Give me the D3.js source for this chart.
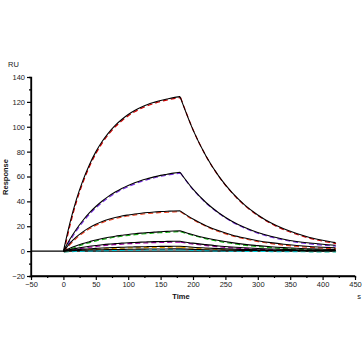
<!DOCTYPE html>
<html><head><meta charset="utf-8">
<script src="https://cdn.jsdelivr.net/npm/d3@7"></script>
<style>
html,body{margin:0;padding:0;background:#fff;}
svg text{font-family:"Liberation Sans",Arial,sans-serif;}
</style></head>
<body><svg id="c" width="364" height="364"></svg>
<script>
// time points (s)
const times = [0,10,20,30,40,50,60,70,80,90,100,110,120,130,140,150,160,170,180,200,220,240,260,280,300,320,340,360,380,400,420];
const injectionEnd = 180; // end of association phase (s)
// response (RU) per concentration
const s1 = [0,22.6,41.4,56.7,69.3,79.8,88.3,95.3,101.1,105.8,109.8,113.0,115.7,117.9,119.6,121.1,122.3,123.4,124.2,97.5,76.5,60.1,47.2,37.0,29.1,22.8,17.9,14.1,11.0,8.7,6.8];
const s2 = [0,9.5,17.6,24.6,30.7,35.9,40.3,44.2,47.5,50.4,52.8,54.9,56.8,58.3,59.7,60.9,61.8,62.7,63.4,49.8,39.1,30.7,24.1,19.0,15.0,12.0,9.6,7.8,6.5,5.5,4.7];
const s3 = [0,6.3,11.4,15.5,18.9,21.6,23.8,25.6,27.0,28.2,29.1,29.9,30.5,31.0,31.4,31.8,32.0,32.3,32.4,25.8,20.5,16.3,13.0,10.5,8.4,6.8,5.5,4.5,3.7,3.1,2.6];
const s4 = [0,2.3,4.3,6.1,7.6,9.0,10.1,11.1,12.0,12.7,13.4,14.0,14.5,14.9,15.3,15.6,15.9,16.2,16.4,13.2,10.6,8.5,6.8,5.4,4.4,3.5,2.8,2.3,1.8,1.5,1.2];
const s5 = [0,1.2,2.2,3.1,3.9,4.5,5.1,5.6,6.0,6.4,6.7,6.9,7.2,7.4,7.6,7.7,7.8,7.9,8.0,6.4,5.2,4.1,3.3,2.7,2.1,1.7,1.4,1.1,0.9,0.7,0.6];
const s6 = [0,0.6,1.1,1.5,1.9,2.2,2.5,2.7,2.9,3.1,3.3,3.4,3.5,3.6,3.7,3.8,3.8,3.9,3.9,3.1,2.5,2.0,1.6,1.3,1.0,0.8,0.7,0.5,0.4,0.35,0.3];
const s7 = [0,0.3,0.5,0.7,0.9,1.0,1.1,1.2,1.3,1.4,1.5,1.55,1.6,1.65,1.7,1.7,1.75,1.8,1.8,1.4,1.1,0.9,0.7,0.6,0.5,0.4,0.3,0.25,0.2,0.15,0.1];
const baselineTimes = [-50,420];
const baselineValues = [0,0];
const seriesValues = [s1,s2,s3,s4,s5,s6,s7];
const seriesColors = ["#d40000","#7b2ee6","#ee3a1a","#14b414","#a000a0","#e8a000","#00c8d8"];
const xTicks = [-50,0,50,100,150,200,250,300,350,400,450];
const yTicks = [-20,0,20,40,60,80,100,120,140];

const svg = d3.select("#c");
const x = d3.scaleLinear().domain([-50,450]).range([31,355]);
const y = d3.scaleLinear().domain([-20,140]).range([276,77]);

// axes
const gx = svg.append("g").attr("transform","translate(0,276)")
  .call(d3.axisBottom(x).tickValues(xTicks).tickSize(4).tickPadding(2).tickFormat(d3.format("d")));
const gxm = svg.append("g").attr("transform","translate(0,276)")
  .call(d3.axisBottom(x).tickValues(d3.range(-25,450,50)).tickSize(2).tickFormat(""));
const gy = svg.append("g").attr("transform","translate(31,0)")
  .call(d3.axisLeft(y).tickValues(yTicks).tickSize(4).tickPadding(2).tickFormat(d3.format("d")));
const gym = svg.append("g").attr("transform","translate(31,0)")
  .call(d3.axisLeft(y).tickValues(d3.range(-10,140,20)).tickSize(2).tickFormat(""));
[gx,gxm,gy,gym].forEach(g=>{
  g.select(".domain").attr("stroke","#000").attr("stroke-width",1.3);
  g.selectAll(".tick line").attr("stroke","#000").attr("stroke-width",1.2);
  g.selectAll("text").attr("font-size","7.5px").attr("fill","#222").attr("font-family","'Liberation Sans',Arial,sans-serif");
});
gx.select(".domain").attr("d","M31,0H355");
gy.select(".domain").attr("d","M0,77V276");

// curves: association and dissociation phases drawn as separate smooth segments
const pts = vals => vals.map((v,i)=>[times[i],v]);
const line = d3.line().x(d=>x(d[0])).y(d=>y(d[1])).curve(d3.curveMonotoneX);
const pathOf = vals => {
  const p = pts(vals);
  return line(p.filter(d=>d[0]<=injectionEnd)) + line(p.filter(d=>d[0]>=injectionEnd));
};
// baseline
svg.append("path").attr("d", d3.line().x((d,i)=>x(baselineTimes[i])).y(d=>y(d))(baselineValues))
  .attr("fill","none").attr("stroke","#000").attr("stroke-width",1.3);
seriesValues.forEach((vals,k)=>{
  svg.append("path").attr("d",pathOf(vals)).attr("fill","none")
    .attr("stroke",seriesColors[k]).attr("stroke-width",1.2)
    .attr("stroke-dasharray","5,3").attr("transform","translate(0.5,0.9)");
});
seriesValues.forEach((vals,k)=>{
  svg.append("path").attr("d",pathOf(vals)).attr("fill","none")
    .attr("stroke","#000").attr("stroke-width",1.1);
});

// labels
svg.append("text").attr("x",8).attr("y",67).attr("font-size","7.5px").attr("fill","#222").text("RU");
svg.append("text").attr("transform","translate(8,177) rotate(-90)").attr("text-anchor","middle")
  .attr("font-size","7.5px").attr("font-weight","bold").attr("fill","#111").text("Response");
svg.append("text").attr("x",181).attr("y",299).attr("text-anchor","middle")
  .attr("font-size","7.5px").attr("font-weight","bold").attr("fill","#111").text("Time");
svg.append("text").attr("x",359).attr("y",299).attr("text-anchor","middle")
  .attr("font-size","7.5px").attr("fill","#222").text("s");
</script></body></html>
